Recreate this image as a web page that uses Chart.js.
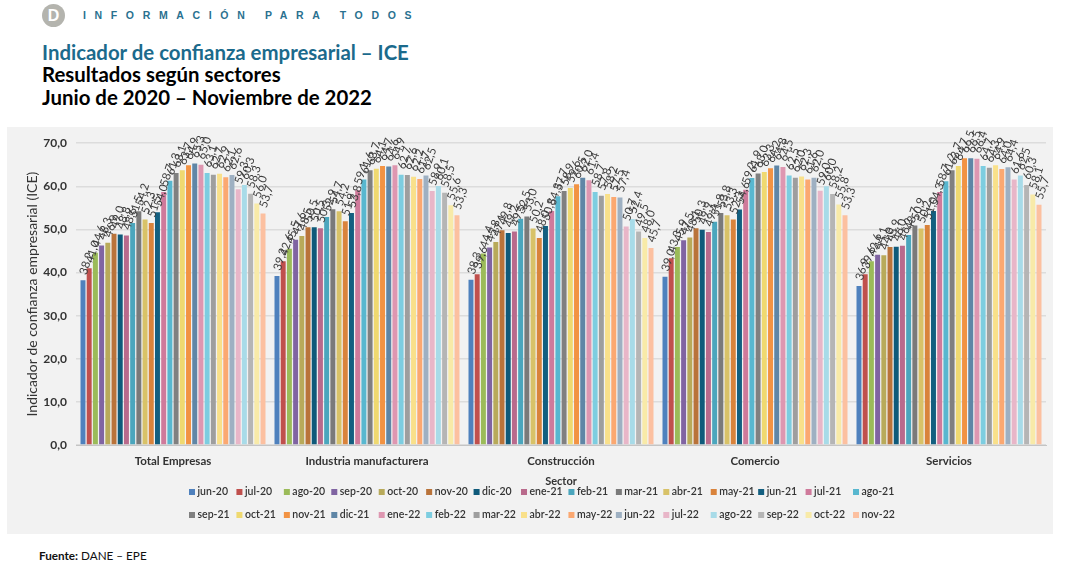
<!DOCTYPE html>
<html><head><meta charset="utf-8">
<script src="https://cdn.jsdelivr.net/npm/chart.js@4/dist/chart.umd.min.js"></script>
<style>
html,body{margin:0;padding:0;background:#fff;width:1068px;height:565px;overflow:hidden;font-family:Lato,sans-serif}
div{position:absolute;white-space:nowrap}
#logo{left:42px;top:4px;width:23px;height:23px;border-radius:50%;background:#b4b4ae;color:#fff;font:bold 16px/23px "Liberation Sans";text-align:center}
#brand{left:83px;top:9px;font:bold 10.5px/13px "Liberation Sans";letter-spacing:8.65px;color:#2a7190}
.t{left:42px;font:bold 20.4px/24px Lato;color:#000}
#panel{left:7px;top:127px;width:1046px;height:407px;background:#f2f2f2}
#src{left:39px;top:548px;font:11.7px/14px Lato;color:#111}
canvas{display:block}
</style></head><body>
<div id="logo">D</div>
<div id="brand">INFORMACIÓN PARA TODOS</div>
<div class="t" style="top:40px;color:#1b6a8c">Indicador de confianza empresarial – ICE</div>
<div class="t" style="top:62px">Resultados según sectores</div>
<div class="t" style="top:85px">Junio de 2020 – Noviembre de 2022</div>
<div id="panel"><canvas id="c" width="1046" height="407"></canvas></div>
<div id="src"><b>Fuente:</b> DANE – EPE</div>
<script>
const categories = ["Total Empresas","Industria manufacturera","Construcción","Comercio","Servicios"];
const months = ["jun-20","jul-20","ago-20","sep-20","oct-20","nov-20","dic-20","ene-21","feb-21","mar-21","abr-21","may-21","jun-21","jul-21","ago-21","sep-21","oct-21","nov-21","dic-21","ene-22","feb-22","mar-22","abr-22","may-22","jun-22","jul-22","ago-22","sep-22","oct-22","nov-22"];
const totalEmpresas = [38.2,41.0,44.6,46.3,46.9,49.0,48.8,48.6,51.5,54.2,52.3,51.5,54.0,58.7,61.3,63.1,63.7,64.9,65.3,65.0,63.1,62.7,62.9,62.1,62.6,59.3,60.3,58.3,56.0,53.7];
const industria = [39.2,42.6,45.5,47.6,48.5,50.5,50.5,50.3,52.9,54.7,54.2,51.9,53.8,59.1,61.6,63.7,64.1,64.7,64.6,64.9,62.7,62.6,62.2,61.7,62.5,58.9,60.1,58.5,55.6,53.3];
const construccion = [38.3,39.6,44.4,45.8,47.1,49.8,49.2,49.5,52.5,53.0,50.2,48.0,50.8,54.3,57.7,58.9,59.6,60.5,62.0,61.4,58.7,57.8,58.2,57.5,57.4,50.7,52.4,49.5,48.0,45.7];
const comercio = [39.0,43.3,45.9,47.5,48.1,50.3,49.9,49.4,51.8,53.8,53.3,52.3,54.6,59.2,61.9,63.0,63.3,64.2,64.8,64.5,62.5,62.0,62.3,61.6,62.0,59.0,60.0,58.2,55.8,53.3];
const servicios = [36.9,39.6,42.6,44.1,44.0,45.9,46.0,46.2,48.7,50.9,50.2,51.0,54.3,58.7,61.2,63.7,64.7,66.5,66.5,66.4,64.7,64.3,64.9,64.0,64.4,61.6,62.5,60.3,58.1,55.7];
const yTicks = [0,10,20,30,40,50,60,70];
const colors = ["#4f81bd","#c0504d","#9bbb59","#8064a2","#b8aa5a","#b9733a","#0f5a7a","#b96a8c","#4ba6bd","#7a7a7a","#d8c268","#d9833b","#135f80","#cf7a9b","#58b7cf","#808080","#efd970","#f29343","#5f86a6","#de97b1","#7dcde0","#9e9e9e","#f9e08a","#fba871","#9eb0c2","#e8b6c8","#a8dbe8","#b5b5b5","#f8eaa8","#fcc0a0"];
const sectors = [totalEmpresas,industria,construccion,comercio,servicios];
const fmt = v => v.toFixed(1).replace('.',',');

const barLabels = {id:'barLabels',afterDatasetsDraw(chart){
  const ctx = chart.ctx;
  ctx.save();
  ctx.font = '11.5px Lato'; ctx.fillStyle = '#3c3c3c';
  ctx.textAlign = 'left'; ctx.textBaseline = 'middle';
  chart.data.datasets.forEach((ds,i)=>{
    chart.getDatasetMeta(i).data.forEach((el,j)=>{
      ctx.save();
      ctx.translate(el.x, el.y-6);
      ctx.rotate(-72*Math.PI/180);
      ctx.fillText(fmt(ds.data[j]),0,0);
      ctx.restore();
    });
  });
  ctx.restore();
}};
const gridLegend = {id:'gridLegend',afterDraw(chart){
  const ctx = chart.ctx;
  ctx.save();
  ctx.font = '600 10.5px Lato'; ctx.textAlign='left'; ctx.textBaseline='middle';
  chart.data.datasets.forEach((ds,i)=>{
    const col = i%15, row = Math.floor(i/15);
    const x = 182 + col*47.43, y = 365 + row*23;
    ctx.fillStyle = ds.backgroundColor;
    ctx.fillRect(x,y-3,6,6);
    ctx.fillStyle = '#333';
    ctx.fillText(ds.label,x+8.5,y);
  });
  ctx.restore();
}};
new Chart(document.getElementById('c'),{
  type:'bar',
  data:{labels:categories,datasets:months.map((m,i)=>({label:m,data:sectors.map(s=>s[i]),backgroundColor:colors[i],borderWidth:0}))},
  plugins:[barLabels,gridLegend],
  options:{
    responsive:false,animation:false,
    layout:{padding:{top:16,right:7,left:0,bottom:0}},
    datasets:{bar:{categoryPercentage:0.96,barPercentage:0.8}},
    plugins:{legend:{display:false},tooltip:{enabled:false},title:{display:false}},
    scales:{
      x:{
        grid:{display:false,drawTicks:false},
        border:{color:'#c4c4c4',width:1},
        ticks:{color:'#333',font:{family:'Lato',size:11.5,weight:'bold'},padding:9,maxRotation:0,autoSkip:false},
        title:{display:true,text:'Sector',color:'#333',font:{family:'Lato',size:11,weight:'bold'},padding:{top:0,bottom:46}},
        afterFit(s){s.height=89;}
      },
      y:{
        min:0,max:70,
        afterBuildTicks(s){s.ticks=yTicks.map(v=>({value:v}));},
        grid:{color:'#dcdcdc',lineWidth:1.5,drawTicks:false},
        border:{display:false},
        ticks:{color:'#333',font:{family:'Lato',size:12,weight:'bold'},padding:9,callback:v=>fmt(v)},
        title:{display:true,text:'Indicador de confianza empresarial (ICE)',color:'#333',font:{family:'Lato',size:14,weight:'normal'},padding:{top:17,bottom:0}},
        afterFit(s){s.width=69;}
      }
    }
  }
});
</script>
</body></html>
